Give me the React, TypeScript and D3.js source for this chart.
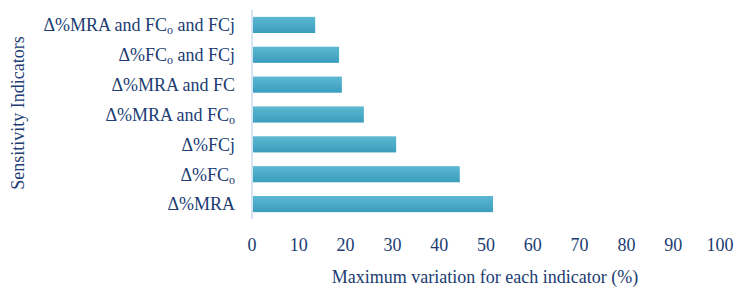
import React, { useRef, useEffect } from 'react';
import * as d3 from 'd3';

// label parts: [text, isSubscript]
const categories: [string, boolean][][] = [
  [['Δ%MRA', false]],
  [['Δ%FC', false], ['o', true]],
  [['Δ%FCj', false]],
  [['Δ%MRA and FC', false], ['o', true]],
  [['Δ%MRA and FC', false]],
  [['Δ%FC', false], ['o', true], [' and FCj', false]],
  [['Δ%MRA and FC', false], ['o', true], [' and FCj', false]],
];
const values = [51.5, 44.4, 30.8, 23.9, 19.2, 18.6, 13.5];
const xTicks = [0, 10, 20, 30, 40, 50, 60, 70, 80, 90, 100];

const W = 742;
const H = 299;
const textColor = '#203c72';
const font = "'Liberation Serif', 'Times New Roman', serif";

const App: React.FC = () => {
  const ref = useRef<SVGSVGElement | null>(null);
  useEffect(() => {
    if (!ref.current) return;
    const svg = d3.select(ref.current);
    svg.selectAll('*').remove();

    const x = d3.scaleLinear().domain([0, 100]).range([252, 720]);
    const idx = values.map((_, i) => i);
    const y = d3
      .scaleBand<number>()
      .domain(idx.slice().reverse())
      .range([10, 219])
      .paddingInner(0.46)
      .paddingOuter(0.23);

    const defs = svg.append('defs');
    const grad = defs
      .append('linearGradient')
      .attr('id', 'barGrad')
      .attr('x1', 0)
      .attr('y1', 0)
      .attr('x2', 0)
      .attr('y2', 1);
    grad.append('stop').attr('offset', '0%').attr('stop-color', '#5db8d2');
    grad.append('stop').attr('offset', '100%').attr('stop-color', '#3a9dbd');

    svg
      .append('g')
      .selectAll('rect')
      .data(idx)
      .enter()
      .append('rect')
      .attr('x', x(0) + 1)
      .attr('y', (i) => y(i) as number)
      .attr('width', (i) => x(values[i]) - x(0) - 1)
      .attr('height', y.bandwidth())
      .attr('fill', 'url(#barGrad)');

    // axis line
    svg
      .append('line')
      .attr('x1', x(0))
      .attr('x2', x(0))
      .attr('y1', 10)
      .attr('y2', 219)
      .attr('stroke', '#d6e3f3')
      .attr('stroke-width', 2);

    // category labels
    const labels = svg
      .append('g')
      .style('font-family', font)
      .style('font-size', '18px')
      .attr('fill', textColor)
      .attr('text-anchor', 'end');
    idx.forEach((i) => {
      const t = labels
        .append('text')
        .attr('x', 235)
        .attr('y', (y(i) as number) + y.bandwidth() / 2)
        .attr('dy', '0.35em');
      categories[i].forEach(([s, sub], k) => {
        const ts = t.append('tspan').text(s);
        if (sub) ts.style('font-size', '12px').attr('dy', 3);
        else if (k > 0) ts.attr('dy', -3);
      });
    });

    // x tick labels
    svg
      .append('g')
      .style('font-family', font)
      .style('font-size', '18px')
      .attr('fill', textColor)
      .attr('text-anchor', 'middle')
      .selectAll('text')
      .data(xTicks)
      .enter()
      .append('text')
      .attr('x', (d) => x(d))
      .attr('y', 251)
      .text((d) => d);

    svg
      .append('text')
      .attr('x', 485)
      .attr('y', 283)
      .attr('text-anchor', 'middle')
      .style('font-family', font)
      .style('font-size', '18px')
      .attr('fill', textColor)
      .text('Maximum variation for each indicator (%)');

    svg
      .append('text')
      .attr('transform', `translate(24,113) rotate(-90)`)
      .attr('text-anchor', 'middle')
      .style('font-family', font)
      .style('font-size', '18px')
      .attr('fill', textColor)
      .text('Sensitivity Indicators');
  }, []);
  return (
    <svg
      ref={ref}
      width={W}
      height={H}
      style={{ position: 'absolute', left: 0, top: 0, background: '#fff' }}
    />
  );
};

export default App;
